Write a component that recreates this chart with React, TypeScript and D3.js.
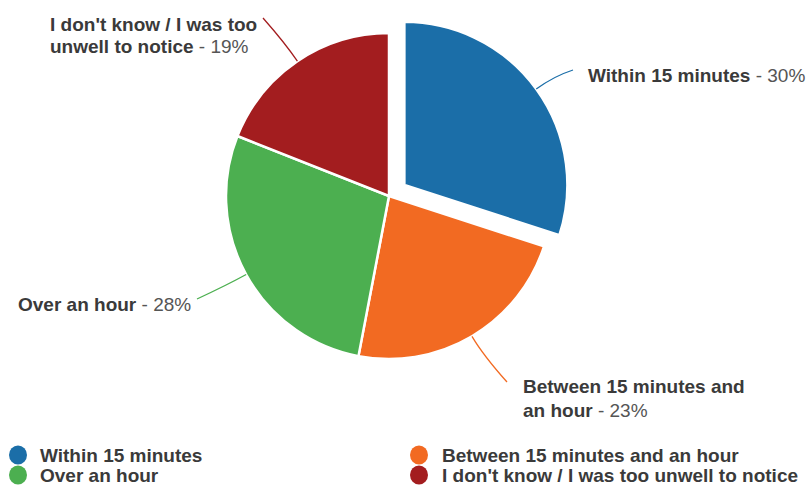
import React from "react";
import * as d3 from "d3";

const categories = [
  "Within 15 minutes",
  "Between 15 minutes and an hour",
  "Over an hour",
  "I don't know / I was too unwell to notice",
];
const values = [30, 23, 28, 19];
const colors = ["#1b6ea8", "#f26a22", "#4caf50", "#a31d1f"];
// label text split into lines for the callouts
const labelLines = [
  ["Within 15 minutes"],
  ["Between 15 minutes and", "an hour"],
  ["Over an hour"],
  ["I don't know / I was too", "unwell to notice"],
];

const W = 810;
const H = 487;
const cx = 389;
const cy = 196;
const R = 163;
const explode = 19;
const FONT = "'Liberation Sans', Arial, sans-serif";

// callout layout: text x, first baseline, line height, leader end point
const labelLayout = [
  { x: 588, y: 82, lh: 22, ex: 573, ey: 70, anchor: "start" },
  { x: 523, y: 393, lh: 24, ex: 507, ey: 382, anchor: "start" },
  { x: 18, y: 311, lh: 22, ex: 197, ey: 299, anchor: "start" },
  { x: 50, y: 31, lh: 22, ex: 263, ey: 18, anchor: "start" },
];

export default function App() {
  const pie = d3
    .pie<number>()
    .sort(null)
    .value((d) => d);
  const arcs = pie(values);
  const arcGen = d3.arc<d3.PieArcDatum<number>>().innerRadius(0).outerRadius(R);

  return (
    <svg
      width={W}
      height={H}
      viewBox={`0 0 ${W} ${H}`}
      style={{ position: "absolute", left: 0, top: 0, background: "#fff" }}
    >
      <rect x={0} y={0} width={W} height={H} fill="#fff" />
      {arcs.map((a, i) => {
        const mid = (a.startAngle + a.endAngle) / 2;
        const off = i === 0 ? explode : 0;
        const ox = cx + off * Math.sin(mid);
        const oy = cy - off * Math.cos(mid);
        return (
          <path
            key={"s" + i}
            d={arcGen(a) || ""}
            transform={`translate(${ox},${oy})`}
            fill={colors[i]}
            stroke="#fff"
            strokeWidth={2.5}
            strokeLinejoin="round"
          />
        );
      })}
      {arcs.map((a, i) => {
        const mid = (a.startAngle + a.endAngle) / 2;
        const off = i === 0 ? explode : 0;
        const ox = cx + off * Math.sin(mid);
        const oy = cy - off * Math.cos(mid);
        const sx = ox + R * Math.sin(mid);
        const sy = oy - R * Math.cos(mid);
        const c1x = ox + (R + 22) * Math.sin(mid);
        const c1y = oy - (R + 22) * Math.cos(mid);
        const L = labelLayout[i];
        const p = d3.path();
        p.moveTo(sx, sy);
        p.quadraticCurveTo(c1x, c1y, L.ex, L.ey);
        return (
          <path
            key={"l" + i}
            d={p.toString()}
            fill="none"
            stroke={colors[i]}
            strokeWidth={1.3}
          />
        );
      })}
      {labelLines.map((lines, i) => {
        const L = labelLayout[i];
        return (
          <text
            key={"t" + i}
            fontFamily={FONT}
            fontSize={19}
            fill="#3a3a3a"
            textAnchor={L.anchor}
          >
            {lines.map((ln, j) => (
              <tspan key={j} x={L.x} y={L.y + j * L.lh} fontWeight="bold">
                {ln}
                {j === lines.length - 1 ? (
                  <tspan fontWeight="normal" fill="#555">
                    {` - ${values[i]}%`}
                  </tspan>
                ) : null}
              </tspan>
            ))}
          </text>
        );
      })}
      {categories.map((c, i) => {
        const col = i % 2;
        const row = Math.floor(i / 2);
        const bx = col === 0 ? 18 : 419;
        const tx = col === 0 ? 40 : 442;
        const by = 462 + row * 20;
        return (
          <g key={"g" + i}>
            <ellipse cx={bx} cy={by - 7} rx={9} ry={9.5} fill={colors[i]} />
            <text
              x={tx}
              y={by}
              fontFamily={FONT}
              fontSize={19}
              fontWeight="bold"
              fill="#3a3a3a"
            >
              {c}
            </text>
          </g>
        );
      })}
    </svg>
  );
}
